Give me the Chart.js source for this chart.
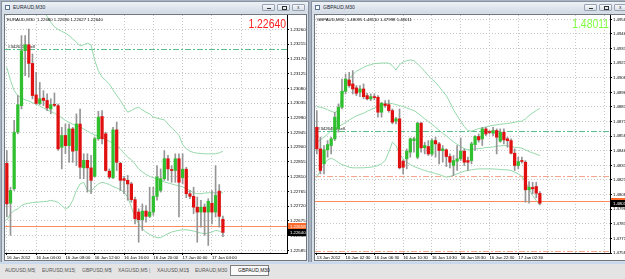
<!DOCTYPE html>
<html>
<head>
<meta charset="utf-8">
<title>EURAUD / GBPAUD M30</title>
<script src="https://cdn.jsdelivr.net/npm/chart.js@4.4.1/dist/chart.umd.min.js"></script>
<style>
  html, body { margin: 0; padding: 0; }
  body { width: 625px; height: 279px; overflow: hidden; position: relative; background: #aab4c0; font-family: 'Liberation Sans', Arial, sans-serif; }
  .win { position: absolute; background: #d8dee6; border: 1px solid #8793a2; box-sizing: border-box; }
  .tbar { position: absolute; height: 11px; background: linear-gradient(#eef2f6, #d2dae4); }
  .t { position: absolute; font-size: 10px; transform: scale(0.5); transform-origin: 0 0; white-space: nowrap; line-height: 1; }
  .ico { position: absolute; top: 5px; width: 3px; height: 3px; border: 1px solid #5d7594; background: #fff; }
  .btn { position: absolute; top: 4px; width: 13px; height: 7px; border: 1px solid #98a4b3; border-radius: 1px; background: linear-gradient(#f7f9fb, #d9e0e8); box-sizing: border-box; }
  .btn i { position: absolute; display: block; }
  .client { position: absolute; background: #fff; border: 1px solid #6c7782; box-sizing: border-box; }
  canvas { position: absolute; }
  #tabs { position: absolute; left: 0; top: 262px; width: 625px; height: 17px; background: #e4e4e4; border-top: 2px solid #c9d8ec; box-sizing: border-box; }
</style>
</head>
<body>

<!-- left window: EURAUD,M30 -->
<div class="win" style="left:1px;top:1px;width:308px;height:262px"></div>
<div class="tbar" style="left:2px;top:2px;width:306px"></div>
<div class="ico" style="left:5px"></div>
<div class="t" style="left:13px;top:5px;color:#1c2633">EURAUD,M30</div>
<div class="btn" style="left:262px"><i style="left:4px;top:3px;width:4px;height:1px;background:#333"></i></div>
<div class="btn" style="left:277px"><i style="left:4px;top:1px;width:3px;height:2px;border:1px solid #333"></i></div>
<div class="btn" style="left:292px"><div class="t" style="left:4px;top:0px;color:#333">x</div></div>
<div class="client" style="left:4px;top:14px;width:303px;height:247px"></div>
<canvas id="eurChart" width="301" height="245" style="left:5px;top:15px"></canvas>

<!-- right window: GBPAUD,M30 -->
<div class="win" style="left:311px;top:1px;width:320px;height:262px"></div>
<div class="tbar" style="left:312px;top:2px;width:318px"></div>
<div class="ico" style="left:315px"></div>
<div class="t" style="left:323px;top:5px;color:#1c2633">GBPAUD,M30</div>
<div class="btn" style="left:584px"><i style="left:4px;top:3px;width:4px;height:1px;background:#333"></i></div>
<div class="btn" style="left:599px"><i style="left:4px;top:1px;width:3px;height:2px;border:1px solid #333"></i></div>
<div class="btn" style="left:614px"><div class="t" style="left:4px;top:0px;color:#333">x</div></div>
<div class="client" style="left:314px;top:14px;width:320px;height:247px"></div>
<canvas id="gbpChart" width="314" height="245" style="left:315px;top:15px"></canvas>

<!-- symbol tabs -->
<div id="tabs"></div>

<script>
// ---------- EURAUD,M30 ----------
const eurOpen = [1.22851,1.22729,1.22773,1.22946,1.23027,1.23195,1.23213,1.23156,1.23060,1.23034,
  1.23050,1.23043,1.23017,1.23030,1.23027,1.22900,1.22936,1.22905,1.22956,1.22890,
  1.22971,1.22837,1.22860,1.22837,1.22811,1.22926,1.22994,1.22941,1.22827,1.22807,
  1.22953,1.22851,1.22804,1.22799,1.22788,1.22740,1.22702,1.22679,1.22705,1.22689,
  1.22702,1.22750,1.22768,1.22804,1.22865,1.22831,1.22829,1.22865,1.22807,1.22833,
  1.22758,1.22750,1.22717,1.22702,1.22717,1.22702,1.22729,1.22702,1.22766,1.22680];
const eurHigh = [1.22890,1.22778,1.22982,1.23058,1.23241,1.23241,1.23261,1.23185,1.23129,1.23098,
  1.23073,1.23063,1.23048,1.23066,1.23032,1.22961,1.22971,1.22971,1.22961,1.23002,
  1.23017,1.22880,1.22880,1.22875,1.22931,1.23010,1.23012,1.22946,1.22834,1.22961,
  1.22977,1.22854,1.22811,1.22814,1.22793,1.22748,1.22712,1.22727,1.22722,1.22778,
  1.22778,1.22844,1.22834,1.22890,1.22875,1.22844,1.22880,1.22880,1.22880,1.22839,
  1.22768,1.22778,1.22748,1.22738,1.22727,1.22743,1.22768,1.22844,1.22786,1.22690];
const eurLow = [1.22687,1.22631,1.22768,1.22941,1.23017,1.23119,1.23114,1.23048,1.23032,1.23030,
  1.23027,1.23012,1.23002,1.23024,1.22890,1.22834,1.22880,1.22854,1.22854,1.22844,
  1.22804,1.22804,1.22763,1.22758,1.22809,1.22921,1.22910,1.22827,1.22804,1.22804,
  1.22829,1.22768,1.22758,1.22738,1.22732,1.22666,1.22610,1.22646,1.22671,1.22685,
  1.22692,1.22738,1.22763,1.22799,1.22799,1.22793,1.22793,1.22687,1.22788,1.22746,
  1.22743,1.22697,1.22610,1.22656,1.22631,1.22600,1.22666,1.22687,1.22656,1.22627];
const eurClose = [1.22727,1.22768,1.22946,1.23030,1.23195,1.23213,1.23156,1.23058,1.23034,1.23048,
  1.23043,1.23020,1.23030,1.23028,1.22895,1.22936,1.22905,1.22956,1.22888,1.22971,
  1.22839,1.22860,1.22837,1.22799,1.22926,1.22992,1.22926,1.22829,1.22809,1.22953,
  1.22854,1.22799,1.22799,1.22788,1.22740,1.22682,1.22679,1.22705,1.22689,1.22702,
  1.22750,1.22809,1.22804,1.22865,1.22834,1.22829,1.22865,1.22793,1.22833,1.22758,
  1.22750,1.22717,1.22702,1.22717,1.22702,1.22735,1.22702,1.22753,1.22689,1.22640];
// bollinger bands
const eurUpper = [null,null,null,null,null,null,null,null,null,1.23348,
  1.23322,1.23299,1.23282,1.23268,1.23260,1.23254,1.23249,1.23241,1.23231,1.23221,
  1.23210,1.23213,1.23218,1.23213,1.23165,1.23134,1.23114,1.23104,1.23093,1.23075,
  1.23058,1.23043,1.23024,1.23007,1.23012,1.23019,1.23022,1.23014,1.23007,1.23002,
  1.22992,1.22989,1.22986,1.22984,1.22971,1.22959,1.22949,1.22936,1.22908,1.22895,
  1.22888,1.22884,1.22882,1.22881,1.22880,1.22880,1.22880,1.22880,1.22883,1.22888];
const eurMiddle = [1.23144,1.23104,1.23073,1.23058,1.23051,1.23045,1.23041,1.23036,1.23032,1.23026,
  1.23020,1.23014,1.23009,1.23004,1.22997,1.22990,1.22982,1.22976,1.22971,1.22966,
  1.22962,1.22956,1.22949,1.22943,1.22938,1.22933,1.22928,1.22923,1.22918,1.22913,
  1.22905,1.22895,1.22882,1.22870,1.22862,1.22849,1.22834,1.22825,1.22817,1.22811,
  1.22807,1.22803,1.22799,1.22794,1.22791,1.22788,1.22785,1.22782,1.22779,1.22774,
  1.22768,1.22761,1.22758,1.22758,1.22760,1.22761,1.22761,1.22761,1.22761,1.22761];
const eurLower = [1.22677,1.22697,1.22707,1.22712,1.22722,1.22727,1.22729,1.22731,1.22732,1.22733,
  1.22734,1.22735,1.22738,1.22735,1.22732,1.22722,1.22712,1.22717,1.22738,1.22768,
  1.22788,1.22793,1.22768,1.22766,1.22778,1.22788,1.22793,1.22790,1.22786,1.22780,
  1.22776,1.22770,1.22763,1.22748,1.22717,1.22687,1.22666,1.22651,1.22641,1.22634,
  1.22628,1.22624,1.22624,1.22630,1.22636,1.22641,1.22644,1.22646,1.22648,1.22648,
  1.22646,1.22644,1.22641,1.22638,1.22636,1.22638,1.22641,1.22646,1.22644,1.22638];
const eurTimes = ['16 Jan 2012', '16 Jan 04:00', '16 Jan 08:00', '16 Jan 12:00',
  '16 Jan 16:00', '16 Jan 20:00', '17 Jan 00:00', '17 Jan 04:00'];
const eurPriceTicks = [1.23260,1.23215,1.23170,1.23125,1.23080,1.23035,1.22990,1.22945,
  1.22900,1.22855,1.22810,1.22765,1.22720,1.22675,1.22630,1.22585];
const eurSellLevel = 1.23201;
const eurAsk = 1.22658;

// ---------- GBPAUD,M30 ----------
const gbpOpen = [1.48661,1.48476,1.48348,1.48468,1.48505,1.48562,1.48647,1.48832,1.48969,1.49066,
  1.49032,1.48998,1.48961,1.48989,1.48932,1.48904,1.48918,1.48918,1.48790,1.48861,
  1.48855,1.48804,1.48713,1.48733,1.48371,1.48391,1.48448,1.48547,1.48405,1.48696,
  1.48485,1.48496,1.48433,1.48547,1.48519,1.48462,1.48468,1.48411,1.48334,1.48371,
  1.48391,1.48456,1.48376,1.48376,1.48513,1.48582,1.48562,1.48647,1.48619,1.48610,
  1.48633,1.48542,1.48619,1.48562,1.48547,1.48439,1.48334,1.48371,1.48362,1.48126,
  1.48146,1.48154,1.48095];
const gbpHigh = [1.48804,1.48576,1.48505,1.48547,1.48576,1.48790,1.48861,1.49074,1.49117,1.49131,
  1.49146,1.49018,1.49018,1.49032,1.48952,1.48946,1.48946,1.48932,1.48875,1.48889,
  1.48895,1.48818,1.48747,1.48818,1.48382,1.48476,1.48570,1.48576,1.48704,1.48704,
  1.48533,1.48547,1.48562,1.48576,1.48533,1.48505,1.48476,1.48433,1.48419,1.48505,
  1.48570,1.48476,1.48405,1.48533,1.48590,1.48604,1.48661,1.48661,1.48633,1.48661,
  1.48647,1.48647,1.48647,1.48576,1.48562,1.48476,1.48405,1.48405,1.48376,1.48197,
  1.48191,1.48191,1.48110];
const gbpLow = [1.48433,1.48262,1.48262,1.48405,1.48433,1.48547,1.48619,1.48818,1.48946,1.49003,
  1.48946,1.48932,1.48923,1.48904,1.48895,1.48889,1.48895,1.48747,1.48747,1.48832,
  1.48790,1.48690,1.48690,1.48305,1.48262,1.48305,1.48405,1.48448,1.48391,1.48448,
  1.48433,1.48419,1.48419,1.48405,1.48348,1.48362,1.48325,1.48314,1.48248,1.48291,
  1.48376,1.48334,1.48291,1.48348,1.48462,1.48533,1.48505,1.48590,1.48604,1.48590,
  1.48433,1.48533,1.48519,1.48490,1.48433,1.48291,1.48305,1.48354,1.48020,1.48012,
  1.48092,1.48057,1.47998];
const gbpClose = [1.48476,1.48291,1.48468,1.48513,1.48562,1.48747,1.48832,1.48969,1.49074,1.49018,
  1.48989,1.48952,1.48989,1.48923,1.48904,1.48923,1.48915,1.48790,1.48867,1.48847,
  1.48804,1.48704,1.48733,1.48314,1.48319,1.48456,1.48562,1.48562,1.48696,1.48485,
  1.48505,1.48433,1.48547,1.48519,1.48462,1.48476,1.48411,1.48362,1.48376,1.48391,
  1.48456,1.48362,1.48362,1.48519,1.48582,1.48553,1.48647,1.48604,1.48616,1.48633,
  1.48576,1.48619,1.48553,1.48547,1.48439,1.48334,1.48368,1.48368,1.48126,1.48148,
  1.48134,1.48097,1.48011];
const gbpUpper = [1.48838,1.48832,1.48824,1.48812,1.48798,1.48787,1.48804,1.48918,1.49018,1.49074,
  1.49112,1.49140,1.49157,1.49174,1.49188,1.49197,1.49206,1.49208,1.49211,1.49211,
  1.49211,1.49188,1.49151,1.49197,1.49220,1.49231,1.49237,1.49231,1.49203,1.49174,
  1.49140,1.49103,1.49072,1.49046,1.49009,1.48969,1.48932,1.48875,1.48810,1.48761,
  1.48713,1.48667,1.48633,1.48627,1.48639,1.48650,1.48656,1.48664,1.48673,1.48678,
  1.48681,1.48687,1.48690,1.48693,1.48698,1.48704,1.48710,1.48713,1.48733,1.48761,
  1.48784,1.48804,1.48824];
const gbpMiddle = [1.48533,1.48553,1.48576,1.48604,1.48633,1.48650,1.48667,1.48684,1.48701,1.48724,
  1.48741,1.48758,1.48770,1.48781,1.48798,1.48812,1.48827,1.48841,1.48852,1.48861,
  1.48867,1.48864,1.48855,1.48847,1.48838,1.48827,1.48815,1.48804,1.48784,1.48758,
  1.48733,1.48710,1.48687,1.48661,1.48636,1.48610,1.48587,1.48562,1.48536,1.48516,
  1.48496,1.48479,1.48468,1.48470,1.48476,1.48479,1.48482,1.48488,1.48490,1.48493,
  1.48499,1.48502,1.48505,1.48502,1.48496,1.48490,1.48488,1.48482,1.48468,1.48453,
  1.48442,1.48431,1.48419];
const gbpLower = [1.48234,1.48291,1.48342,1.48382,1.48396,1.48382,1.48359,1.48342,1.48331,1.48319,
  1.48314,1.48314,1.48314,1.48314,1.48317,1.48319,1.48325,1.48334,1.48348,1.48376,
  1.48448,1.48533,1.48505,1.48433,1.48391,1.48362,1.48342,1.48325,1.48314,1.48302,
  1.48291,1.48282,1.48274,1.48265,1.48257,1.48245,1.48234,1.48240,1.48251,1.48262,
  1.48274,1.48285,1.48291,1.48297,1.48302,1.48305,1.48305,1.48305,1.48305,1.48305,
  1.48302,1.48300,1.48297,1.48297,1.48291,1.48277,1.48262,1.48240,1.48191,1.48134,
  1.48077,1.48035,1.47992];
const gbpTimes = ['13 Jan 2012', '16 Jan 02:30', '16 Jan 06:30', '16 Jan 10:30',
  '16 Jan 14:30', '16 Jan 18:30', '16 Jan 22:30', '17 Jan 02:30'];
const gbpPriceTicks = [1.49585,1.49460,1.49335,1.49210,1.49085,1.48960,1.48835,1.48710,1.48585,
  1.48460,1.48335,1.48210,1.48085,1.47960,1.47835,1.47710,1.47585];
const gbpSellLevel = 1.48628;
const gbpStopLevels = [1.48248, 1.47605];
const gbpAsk = 1.48029;

const tabNames = ['AUDUSD,M5', 'EURUSD,M15', 'GBPUSD,M5', 'XAGUSD,M5', 'XAUUSD,M15', 'EURAUD,M30', 'GBPAUD,M30'];

// colours
const BULL = '#2fbf2f';
const BEAR = '#e01010';
const WICK = '#959595';
const BAND = '#95d8aa';
const GRID = '#c9c9c9';
const TRADE = '#57c08a';
const STOP = '#f5a68c';
const FONT = "'Liberation Sans', Arial, sans-serif";

Chart.defaults.font.family = FONT;

// level lines, price tags and header text, all placed through the y scale
const overlay = {
  id: 'overlay',
  beforeDatasetsDraw(chart, args, o) {
    const ctx = chart.ctx, a = chart.chartArea, y = chart.scales.y;
    ctx.save();
    ctx.lineWidth = 1;
    o.lines.forEach(l => {
      const py = Math.round(y.getPixelForValue(l.value)) + 0.5;
      ctx.strokeStyle = l.color;
      ctx.setLineDash(l.dash);
      ctx.beginPath();
      ctx.moveTo(a.left, py);
      ctx.lineTo(a.right, py);
      ctx.stroke();
      if (l.text) {
        ctx.setLineDash([]);
        ctx.fillStyle = '#000';
        ctx.font = '4.3px ' + FONT;
        ctx.fillText(l.text, a.left + 3, py - 2);
      }
    });
    ctx.restore();
  },
  afterDraw(chart, args, o) {
    const ctx = chart.ctx, a = chart.chartArea, y = chart.scales.y;
    ctx.save();
    ctx.font = '4.3px ' + FONT;
    ctx.textBaseline = 'middle';
    o.tags.forEach(t => {
      const py = Math.round(y.getPixelForValue(t.value));
      ctx.fillStyle = t.bg;
      ctx.fillRect(a.right + 1, py - 3, 19, 7);
      ctx.fillStyle = '#fff';
      ctx.fillText(t.value.toFixed(5), a.right + 3, py + 0.5);
    });
    ctx.textBaseline = 'alphabetic';
    ctx.fillStyle = '#000';
    ctx.fillText(o.header, a.left + 2, a.top + 6);
    ctx.font = '13px ' + FONT;
    ctx.fillStyle = o.bigColor;
    ctx.textAlign = 'right';
    ctx.translate(a.right - 1, a.top + 13.3);
    ctx.scale(0.8, 1);
    ctx.fillText(o.big, 0, 0);
    ctx.restore();
  }
};

function makeChart(id, d) {
  const slots = Array.from({ length: d.slots }, (_, i) => i);
  const last = d.close.length - 1;
  const header = d.name + '  ' + [d.open[last], d.high[last], d.low[last], d.close[last]].map(v => v.toFixed(5)).join(' ');
  const bandLine = (values) => ({
    type: 'line', data: values, borderColor: BAND, borderWidth: 1,
    pointRadius: 0, tension: 0, fill: false, order: 5
  });

  return new Chart(document.getElementById(id), {
    type: 'bar',
    data: {
      labels: slots,
      datasets: [
        bandLine(d.upper),
        bandLine(d.middle),
        bandLine(d.lower),
        {
          data: d.low.map((l, i) => [l, d.high[i]]),
          backgroundColor: WICK, barThickness: 1, grouped: false, order: 3
        },
        {
          data: d.open.map((o, i) => [o, d.close[i]]),
          backgroundColor: d.open.map((o, i) => d.close[i] >= o ? BULL : BEAR),
          barThickness: 2.6, minBarLength: 1, grouped: false, order: 2
        }
      ]
    },
    options: {
      animation: false,
      responsive: false,
      devicePixelRatio: 1,
      layout: { padding: 0 },
      plugins: {
        legend: { display: false },
        tooltip: { enabled: false },
        overlay: { lines: d.lines, tags: d.tags, header: header, big: d.close[last].toFixed(5), bigColor: d.bigColor }
      },
      scales: {
        x: {
          offset: true,
          grid: {
            offset: false,
            color: c => c.index % 8 === 0 ? GRID : 'rgba(0,0,0,0)',
            tickColor: c => (c.index % 8 === 0 && c.index / 8 < d.times.length) ? '#000' : 'rgba(0,0,0,0)',
            tickLength: 2
          },
          border: { display: true, color: '#000', dash: [1, 2] },
          ticks: {
            autoSkip: false, maxRotation: 0, minRotation: 0, align: 'start', padding: 0,
            color: '#000', font: { size: 4.3 },
            callback: (v, i) => i % 8 === 0 ? (d.times[i / 8] || '') : ''
          },
          afterFit: s => { s.height = 7; s.paddingLeft = 0; s.paddingRight = 0; }
        },
        y: {
          position: 'right',
          bounds: 'data',
          min: d.min,
          max: d.max,
          afterBuildTicks: s => { s.ticks = d.ticks.map(v => ({ value: v })); },
          grid: { color: GRID, tickColor: '#000', tickLength: 2 },
          border: { display: true, color: '#000', dash: [1, 2] },
          ticks: {
            autoSkip: false, padding: 1, color: '#000', font: { size: 4.3 },
            callback: v => v.toFixed(5)
          },
          afterFit: s => { s.width = 19; s.paddingTop = 0; s.paddingBottom = 0; }
        }
      }
    },
    plugins: [overlay]
  });
}

document.addEventListener('DOMContentLoaded', function() {
  makeChart('eurChart', {
    name: 'EURAUD,M30', slots: 77,
    open: eurOpen, high: eurHigh, low: eurLow, close: eurClose,
    upper: eurUpper, middle: eurMiddle, lower: eurLower,
    times: eurTimes, ticks: eurPriceTicks, min: 1.22577, max: 1.23304,
    bigColor: '#ff2020',
    lines: [
      { value: eurSellLevel, color: TRADE, dash: [6, 2, 2, 2], text: '#3426351 sell' },
      { value: eurAsk, color: '#ff8a5c', dash: [] }
    ],
    tags: [
      { value: eurAsk, bg: '#ff6a2a' },
      { value: eurClose[eurClose.length - 1], bg: '#000' }
    ]
  });

  makeChart('gbpChart', {
    name: 'GBPAUD,M30', slots: 82,
    open: gbpOpen, high: gbpHigh, low: gbpLow, close: gbpClose,
    upper: gbpUpper, middle: gbpMiddle, lower: gbpLower,
    times: gbpTimes, ticks: gbpPriceTicks, min: 1.47585, max: 1.49622,
    bigColor: '#80ff40',
    lines: [
      { value: gbpSellLevel, color: TRADE, dash: [6, 2, 2, 2], text: '#3426484 sell' },
      { value: gbpStopLevels[0], color: STOP, dash: [6, 2, 2, 2] },
      { value: gbpStopLevels[1], color: STOP, dash: [6, 2, 2, 2] },
      { value: gbpAsk, color: '#ff8a5c', dash: [] }
    ],
    tags: [
      { value: gbpAsk, bg: '#ff6a2a' },
      { value: gbpClose[gbpClose.length - 1], bg: '#000' }
    ]
  });

  // tab strip along the bottom
  const tabX = [5, 42, 82, 118, 157, 195, 238];
  const tabs = document.getElementById('tabs');
  tabNames.forEach((name, i) => {
    const active = i === tabNames.length - 1;
    if (active) {
      const box = document.createElement('div');
      box.style.cssText = 'position:absolute;left:230px;top:1px;width:39px;height:11px;background:#fafafa;border:1px solid #7f7f7f;box-sizing:border-box';
      tabs.appendChild(box);
    } else if (i > 0) {
      const sep = document.createElement('div');
      sep.className = 't';
      sep.style.cssText = 'left:' + (tabX[i] - 8) + 'px;top:4px;color:#777';
      sep.textContent = '|';
      tabs.appendChild(sep);
    }
    const t = document.createElement('div');
    t.className = 't';
    t.style.cssText = 'left:' + tabX[i] + 'px;top:4px;color:' + (active ? '#111' : '#555');
    t.textContent = name;
    tabs.appendChild(t);
  });
});
</script>
</body>
</html>
